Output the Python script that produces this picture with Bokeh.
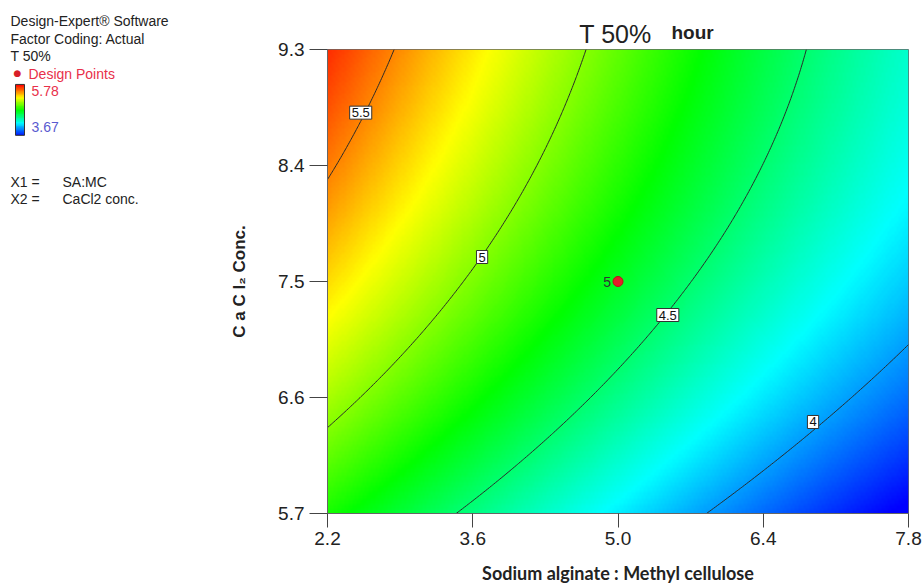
import numpy as np
from bokeh.plotting import figure
from bokeh.models import Range1d, LinearColorMapper, FixedTicker
from bokeh.core.properties import value
from bokeh.embed import file_html
from bokeh.resources import INLINE

# ---------------- data ----------------
sa_mc_ticks = [2.2, 3.6, 5.0, 6.4, 7.8]          # X1 = SA:MC
cacl2_ticks = [5.7, 6.6, 7.5, 8.4, 9.3]          # X2 = CaCl2 conc.
contour_levels = [4.0, 4.5, 5.0, 5.5]
contour_labels = ["4", "4.5", "5", "5.5"]

# points (SA:MC, CaCl2)
c55_x = [2.77, 2.66, 2.52, 2.33, 2.20]
c55_y = [9.30, 9.06, 8.81, 8.50, 8.29]
c50_x = [4.71, 4.16, 3.69, 3.45, 3.26, 2.78, 2.20]
c50_y = [9.30, 8.29, 7.69, 7.43, 7.23, 6.84, 6.35]
c45_x = [6.79, 6.63, 6.44, 6.18, 5.86, 5.60, 5.48, 5.02, 4.45, 3.90, 3.41]
c45_y = [9.29, 8.85, 8.39, 8.08, 7.69, 7.36, 7.24, 6.84, 6.33, 5.96, 5.72]
c40_x = [7.79, 7.37, 6.88, 6.40, 5.89]
c40_y = [7.01, 6.68, 6.41, 6.10, 5.71]

# colour-scale range of the response (legend)
t50_high = 5.78
t50_low = 3.67
# response read at the two extreme corners
corner_x = [2.2, 7.8]
corner_y = [9.3, 5.7]
corner_t50 = [5.72, 3.66]

# design point (centre point, 5 replicates)
design_x = [5.0]
design_y = [7.5]
design_n = ["5"]

# index of the traced point on which each contour label sits
label_idx = {4.0: 2, 4.5: 6, 5.0: 2, 5.5: 2}

# ---------------- smooth response surface fitted to the traced data ----------------
traces = {4.0: (c40_x, c40_y), 4.5: (c45_x, c45_y), 5.0: (c50_x, c50_y), 5.5: (c55_x, c55_y)}
px, py, pz = [], [], []
for lev, (xs, ys) in traces.items():
    px += xs; py += ys; pz += [lev] * len(xs)
px += corner_x; py += corner_y; pz += corner_t50
px, py, pz = map(np.asarray, (px, py, pz))

def basis(x, y):
    u = (x - 5.0) / 2.8
    v = (y - 7.5) / 1.8
    return np.stack([np.ones_like(u), u, v, u * u, u * v, v * v,
                     u ** 3, u * u * v, u * v * v, v ** 3], axis=-1)

coef, *_ = np.linalg.lstsq(basis(px, py), pz, rcond=None)

gx = np.linspace(2.2, 7.8, 281)
gy = np.linspace(5.7, 9.3, 181)
XX, YY = np.meshgrid(gx, gy)
ZZ = basis(XX, YY) @ coef

# Design-Expert rainbow: blue - cyan - green - yellow - red
stops = [(0.0, (0, 0, 255)), (0.25, (0, 255, 255)), (0.5, (0, 255, 0)),
         (0.75, (255, 255, 0)), (1.0, (255, 0, 0))]
palette = []
for t in np.linspace(0, 1, 256):
    for (t0, c0), (t1, c1) in zip(stops[:-1], stops[1:]):
        if t <= t1 + 1e-9:
            f = (t - t0) / (t1 - t0)
            rgb = [int(round(a + (b - a) * f)) for a, b in zip(c0, c1)]
            palette.append("#%02x%02x%02x" % tuple(rgb))
            break
mapper = LinearColorMapper(palette=palette, low=t50_low, high=t50_high)

# ---------------- main plot ----------------
W, H = 922, 586
FL, FR, FT, FB = 327, 908, 49, 514      # frame edges on the page
p = figure(width=W, height=H, x_range=Range1d(2.2, 7.8), y_range=Range1d(5.7, 9.3),
           output_backend="svg", toolbar_location=None,
           min_border_left=FL, min_border_right=W - FR, min_border_top=FT,
           min_border_bottom=H - FB)
# page-pixel ranges for the surrounding texts (x to the right, y downwards)
p.extra_x_ranges = {"page_x": Range1d(FL, FR)}
p.extra_y_ranges = {"page_y": Range1d(FB, FT)}

p.image(image=[ZZ], x=2.2, y=5.7, dw=5.6, dh=3.6, color_mapper=mapper)
p.contour(gx, gy, ZZ, levels=contour_levels, line_color="#2a2a2a", line_width=1)

lx = [traces[l][0][label_idx[l]] for l in contour_levels]
ly = [traces[l][1][label_idx[l]] for l in contour_levels]
p.text(x=lx, y=ly, text=contour_labels, text_align="center", text_baseline="middle",
       text_font=value("Liberation Sans"), text_font_size="13px", text_color="#111111",
       background_fill_color="white", border_line_color="#333333", border_line_width=1,
       padding=2)

p.scatter(design_x, design_y, size=10, color="#e4202a", line_color="#c01018")
p.text(x=design_x, y=design_y, text=design_n, text_align="right", text_baseline="middle",
       x_offset=-7, text_font=value("Liberation Sans"), text_font_size="14px",
       text_color="#333333")

p.grid.visible = False
p.outline_line_color = "#666666"
p.outline_line_width = 1

tick_font = "'Liberation Sans Narrow', 'Liberation Sans'"
p.xaxis.ticker = FixedTicker(ticks=sa_mc_ticks)
p.xaxis.major_label_overrides = {t: f"{t:.1f}" for t in sa_mc_ticks}
p.yaxis.ticker = FixedTicker(ticks=cacl2_ticks)
p.yaxis.major_label_overrides = {t: f"{t:.1f}" for t in cacl2_ticks}
for ax in (p.xaxis, p.yaxis):
    ax.minor_tick_line_color = None
    ax.major_tick_in = 0
    ax.axis_line_color = "#666666"
    ax.major_tick_line_color = "#444444"
    ax.major_label_text_font = tick_font
    ax.major_label_text_font_size = "19px"
    ax.major_label_text_color = "#222222"
    ax.axis_label_text_font_style = "bold"
    ax.axis_label_text_color = "#222222"
p.xaxis.major_tick_out = 14
p.xaxis.major_label_standoff = 4
p.yaxis.major_tick_out = 18
p.yaxis.major_label_standoff = 5

p.xaxis.axis_label = "Sodium alginate : Methyl cellulose"
p.xaxis.axis_label_text_font = "Lato"
p.xaxis.axis_label_text_font_size = "18px"
p.xaxis.axis_label_standoff = 14
p.yaxis.axis_label = "C a C l\u2082 Conc."
p.yaxis.axis_label_text_font = "Liberation Sans"
p.yaxis.axis_label_text_font_size = "17px"
p.yaxis.axis_label_standoff = 26

# ---------------- texts outside the frame (drawn at overlay level, page pixels) ----------------
f = value("Liberation Sans")
fs = "14px"
pg = dict(x_range_name="page_x", y_range_name="page_y", level="overlay")

p.text(x=[615], y=[33], text=["T 50%"], text_align="center", text_baseline="middle",
       text_font=f, text_font_size="25px", text_color="#222222", **pg)
p.text(x=[671], y=[32], text=["hour"], text_align="left", text_baseline="middle",
       text_font=f, text_font_style="bold", text_font_size="19px", text_color="#222222", **pg)

p.text(x=[10, 10, 10], y=[20, 38, 56],
       text=["Design-Expert\u00ae Software", "Factor Coding: Actual", "T 50%"],
       text_baseline="middle", text_font=f, text_font_size=fs, text_color="#222222", **pg)
p.text(x=[17], y=[73], text=["\u25cf"], text_align="center", text_baseline="middle",
       text_font=value("DejaVu Sans"), text_font_size="9px", text_color="#d81e28", **pg)
p.text(x=[28], y=[74], text=["Design Points"], text_baseline="middle",
       text_font=f, text_font_size=fs, text_color="#e8304a", **pg)
bar = np.linspace(t50_high, t50_low, 64).reshape(-1, 1)
p.image(image=[bar], x=15, y=84, dw=9, dh=51, color_mapper=mapper, **pg)
p.quad(left=[15], right=[24], bottom=[135], top=[84], fill_color=None,
       line_color="#333333", line_width=1, **pg)
p.text(x=[31], y=[91], text=[f"{t50_high:.2f}"], text_baseline="middle",
       text_font=f, text_font_size=fs, text_color="#e8304a", **pg)
p.text(x=[31], y=[127], text=[f"{t50_low:.2f}"], text_baseline="middle",
       text_font=f, text_font_size=fs, text_color="#5a5ad0", **pg)
p.text(x=[10, 10], y=[182, 199], text=["X1 =", "X2 ="], text_baseline="middle",
       text_font=f, text_font_size=fs, text_color="#222222", **pg)
p.text(x=[62, 62], y=[182, 199], text=["SA:MC", "CaCl2 conc."], text_baseline="middle",
       text_font=f, text_font_size=fs, text_color="#222222", **pg)

open("out.html", "w").write(file_html(p, INLINE))
